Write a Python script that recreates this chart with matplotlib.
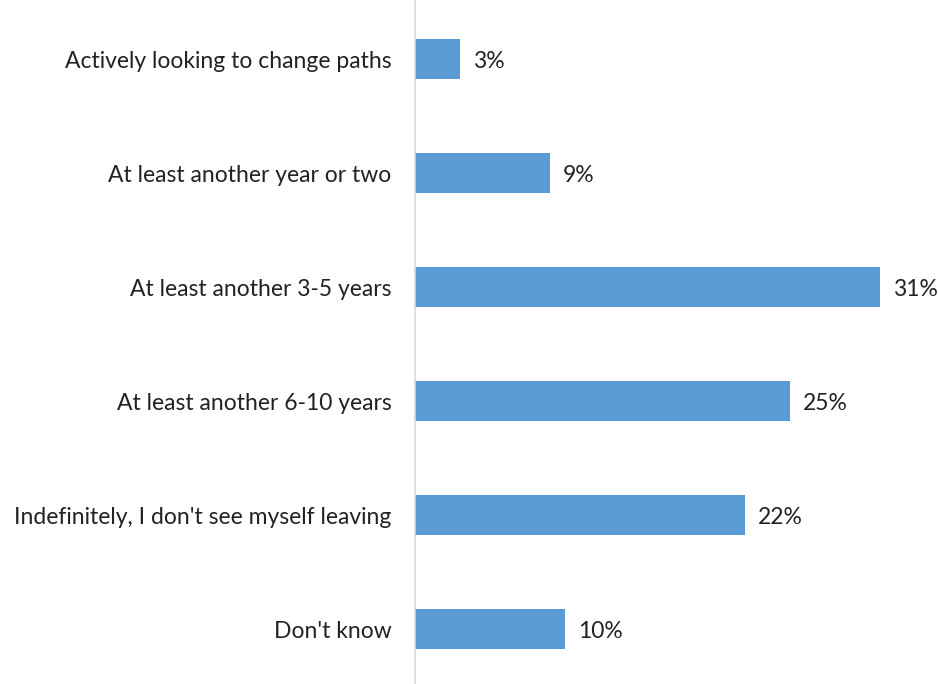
import matplotlib.pyplot as plt

categories = ["Actively looking to change paths",
              "At least another year or two",
              "At least another 3-5 years",
              "At least another 6-10 years",
              "Indefinitely, I don't see myself leaving",
              "Don't know"]
values = [3, 9, 31, 25, 22, 10]

plt.rcParams['font.family'] = ['Lato', 'DejaVu Sans']

fig = plt.figure(figsize=(9.38, 6.84), dpi=100)
ax = fig.add_axes([415 / 938, 0, 523 / 938, 1])

ypos = list(range(len(categories)))
ax.barh(ypos, values, height=0.35, color="#5B9BD5")
for y, v in zip(ypos, values):
    ax.text(v + 0.85, y + 0.02, f"{v}%", va="center", ha="left", fontsize=16.5, color="#222222")

ax.set_xlim(0, 523 / 15)
ax.set_ylim(len(categories) - 0.52, -0.52)
ax.set_yticks(ypos)
ax.set_yticklabels(categories, fontsize=16.5, color="#222222")
ax.tick_params(axis="y", length=0, pad=17)
ax.set_xticks([])
for side in ["top", "right", "bottom"]:
    ax.spines[side].set_visible(False)
ax.spines["left"].set_color("#D9D9D9")
ax.spines["left"].set_linewidth(1.2)

fig.savefig("out.png", dpi=100)
